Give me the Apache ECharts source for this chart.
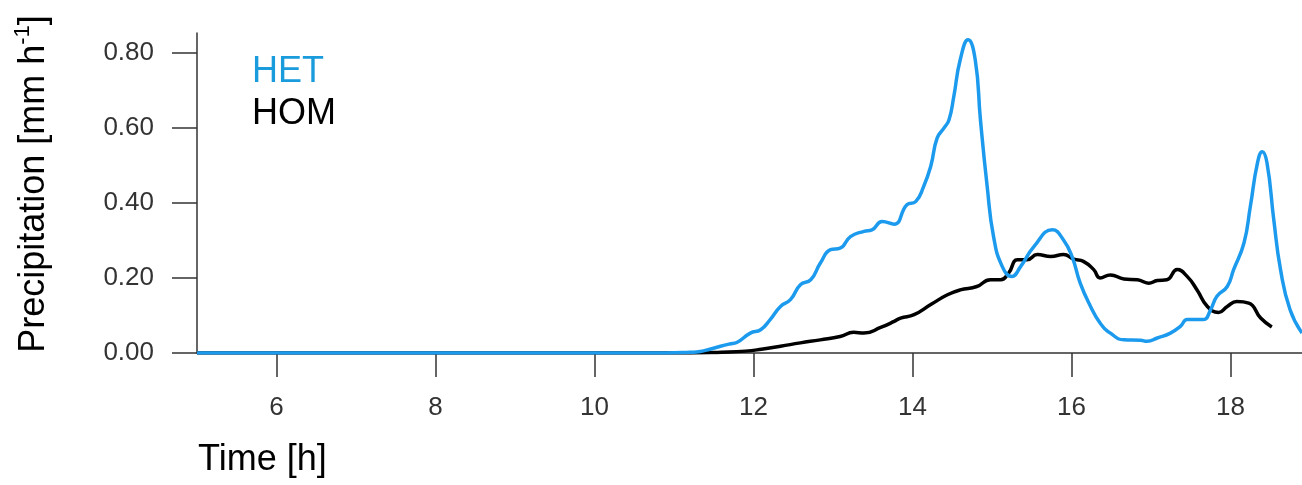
<!DOCTYPE html>
<html>
<head>
<meta charset="utf-8">
<title>Precipitation</title>
<script src="https://cdn.jsdelivr.net/npm/echarts@6/dist/echarts.min.js"></script>
<style>
  html, body { margin: 0; padding: 0; background: #fff; }
  #chart { width: 1302px; height: 485px; }
</style>
</head>
<body>
<div id="chart"></div>
<script>
// HET run (blue) - time [h] and precipitation [mm/h]
const hetTime = [5.0, 10.9, 11.2, 11.33, 11.45, 11.585, 11.7, 11.79, 11.96, 12.09, 12.21, 12.34, 12.465,
  12.59, 12.72, 12.84, 12.97, 13.09, 13.22, 13.39, 13.49, 13.62, 13.77, 13.93, 14.04, 14.14, 14.23, 14.31,
  14.4, 14.46, 14.52, 14.6, 14.7, 14.79, 14.855, 14.94, 15.02, 15.13, 15.25, 15.36, 15.53, 15.76, 15.9,
  16.01, 16.11, 16.24, 16.36, 16.49, 16.66, 16.87, 16.95, 17.08, 17.245, 17.37, 17.455, 17.54, 17.66,
  17.75, 17.83, 17.96, 18.04, 18.17, 18.25, 18.34, 18.4, 18.46, 18.545, 18.63, 18.75, 18.9];
const hetValue = [0, 0, 0.002, 0.004, 0.010, 0.018, 0.024, 0.028, 0.053, 0.062, 0.089, 0.124, 0.142,
  0.182, 0.195, 0.239, 0.275, 0.279, 0.310, 0.324, 0.328, 0.350, 0.343, 0.395, 0.403, 0.443, 0.497, 0.572,
  0.600, 0.621, 0.683, 0.780, 0.834, 0.780, 0.621, 0.443, 0.310, 0.230, 0.204, 0.230, 0.284, 0.328, 0.301,
  0.255, 0.186, 0.124, 0.080, 0.053, 0.035, 0.034, 0.031, 0.040, 0.053, 0.071, 0.089, 0.089, 0.089,
  0.115, 0.151, 0.177, 0.222, 0.293, 0.390, 0.506, 0.536, 0.506, 0.355, 0.222, 0.115, 0.053];

// HOM run (black)
const homTime = [5.0, 11.2, 11.6, 11.9, 12.1, 12.34, 12.59, 12.84, 13.09, 13.26, 13.39, 13.6, 13.77,
  13.85, 14.02, 14.23, 14.44, 14.6, 14.81, 14.98, 15.11, 15.21, 15.32, 15.44, 15.57, 15.74, 15.9, 16.03,
  16.15, 16.28, 16.36, 16.49, 16.66, 16.83, 16.97, 17.08, 17.2, 17.33, 17.455, 17.58, 17.71, 17.85,
  17.96, 18.08, 18.23, 18.38, 18.52];
const homValue = [0, 0, 0.002, 0.005, 0.010, 0.018, 0.027, 0.035, 0.044, 0.055, 0.053, 0.068, 0.084,
  0.093, 0.102, 0.129, 0.155, 0.168, 0.177, 0.195, 0.195, 0.213, 0.248, 0.248, 0.262, 0.257, 0.262, 0.250,
  0.244, 0.222, 0.200, 0.208, 0.197, 0.195, 0.186, 0.193, 0.195, 0.222, 0.204, 0.168, 0.124, 0.108,
  0.124, 0.137, 0.133, 0.093, 0.069];

// tick labels
const xTicks = [6, 8, 10, 12, 14, 16, 18];
const yTicks = [0, 0.2, 0.4, 0.6, 0.8];

const hetColor = '#1c9bee';
const homColor = '#000000';
const axisColor = '#333333';
const fontFamily = '"Liberation Sans", Arial, Helvetica, sans-serif';

const zip = (xs, ys) => xs.map((x, i) => [x, ys[i]]);

const chart = echarts.init(document.getElementById('chart'));

const option = {
  animation: false,
  textStyle: { fontFamily: fontFamily },
  grid: {
    left: 197,
    right: 0,
    top: 33,
    bottom: 132,
    outerBoundsMode: 'none'
  },
  legend: {
    orient: 'vertical',
    left: 242,
    top: 46,
    icon: 'none',
    itemWidth: 0,
    itemHeight: 10,
    itemGap: 0,
    selectedMode: false,
    textStyle: { fontSize: 36, lineHeight: 42, fontFamily: fontFamily },
    data: [
      { name: 'HET', textStyle: { color: '#1a9bdb' } },
      { name: 'HOM', textStyle: { color: '#000' } }
    ]
  },
  xAxis: {
    type: 'value',
    min: 5,
    max: 18.9,
    axisLine: { lineStyle: { color: axisColor, width: 1.5 } },
    axisTick: {
      length: 24,
      lineStyle: { color: axisColor, width: 1.5 },
      customValues: xTicks
    },
    axisLabel: {
      margin: 42,
      fontSize: 26,
      color: axisColor,
      customValues: xTicks,
      formatter: (v) => String(v)
    },
    splitLine: { show: false }
  },
  yAxis: {
    type: 'value',
    min: 0,
    max: 0.852,
    axisLine: { show: true, lineStyle: { color: axisColor, width: 1.5 } },
    axisTick: {
      show: true,
      length: 25,
      lineStyle: { color: axisColor, width: 1.5 },
      customValues: yTicks
    },
    axisLabel: {
      margin: 43,
      fontSize: 26,
      color: axisColor,
      customValues: yTicks,
      formatter: (v) => v.toFixed(2)
    },
    splitLine: { show: false }
  },
  graphic: [
    {
      type: 'text',
      x: 198,
      y: 460,
      style: {
        text: 'Time [h]',
        fontSize: 36,
        fontFamily: fontFamily,
        fill: '#000',
        align: 'left',
        verticalAlign: 'middle'
      }
    },
    {
      type: 'text',
      x: 34,
      y: 184,
      rotation: Math.PI / 2,
      style: {
        text: 'Precipitation [mm h{sup|-1}]',
        fontSize: 36,
        lineHeight: 44,
        fontFamily: fontFamily,
        fill: '#000',
        align: 'center',
        verticalAlign: 'middle',
        rich: {
          sup: { fontSize: 22, lineHeight: 26, verticalAlign: 'top', fontFamily: fontFamily, fill: '#000' }
        }
      }
    }
  ],
  series: [
    {
      name: 'HOM',
      type: 'line',
      data: zip(homTime, homValue),
      showSymbol: false,
      smooth: 0.5,
      lineStyle: { color: homColor, width: 3.5 },
      itemStyle: { color: homColor },
      z: 2
    },
    {
      name: 'HET',
      type: 'line',
      data: zip(hetTime, hetValue),
      showSymbol: false,
      smooth: 0.5,
      lineStyle: { color: hetColor, width: 3.5 },
      itemStyle: { color: hetColor },
      z: 3
    }
  ]
};

chart.setOption(option);
</script>
</body>
</html>
